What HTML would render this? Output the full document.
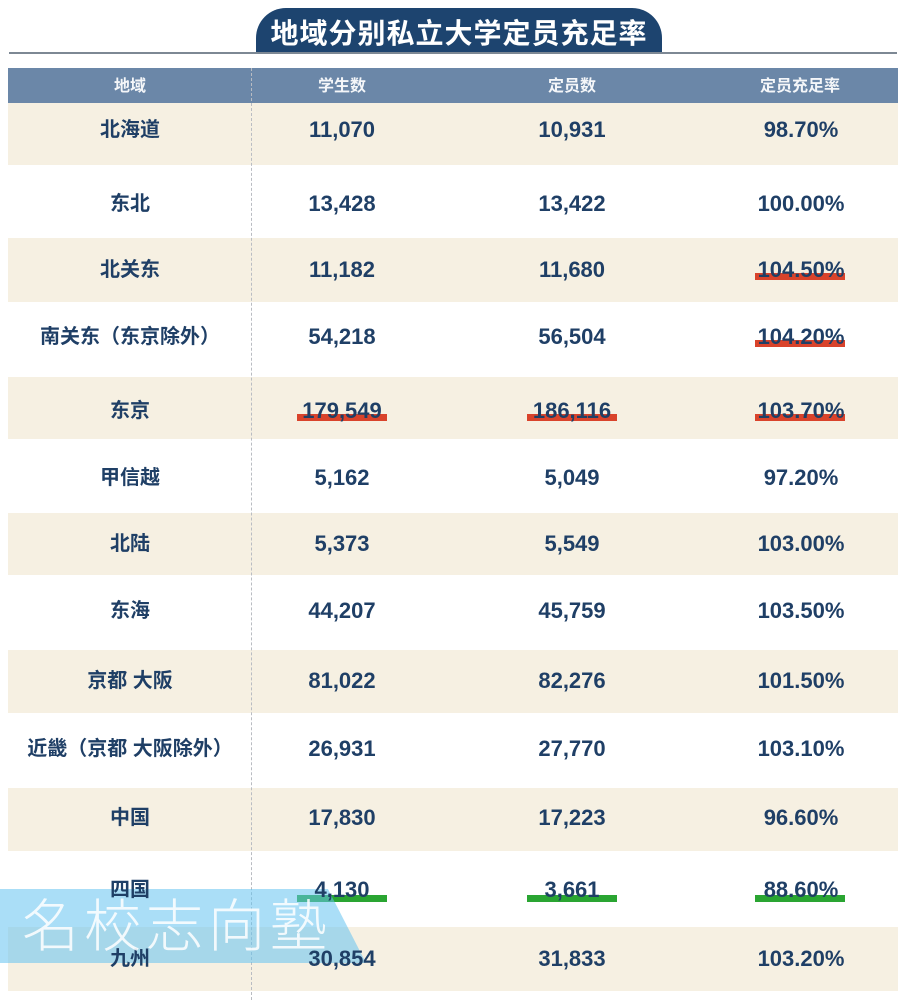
<!DOCTYPE html>
<html>
<head>
<meta charset="utf-8">
<style>
  html,body{margin:0;padding:0;background:#fff;}
  body{width:906px;height:1000px;position:relative;overflow:hidden;
       font-family:"Liberation Sans","Noto Sans CJK SC","Noto Sans CJK JP",sans-serif;}
  .abs{position:absolute;}
  .tab{left:256px;top:8px;width:406px;height:45px;background:#1d446f;border-radius:30px 30px 0 0;}
  .title{left:256px;top:14px;width:406px;height:40px;line-height:40px;text-align:center;color:#fff;
         font-weight:bold;font-size:28px;letter-spacing:1px;white-space:nowrap;}
  .hline{left:9px;top:52px;width:888px;height:2px;background:#7d8894;}
  .head{left:8px;top:68px;width:890px;height:35px;background:#6b87a8;}
  .ht{top:68px;height:38px;line-height:38px;color:#f4f6f9;font-size:16px;font-weight:bold;text-align:center;width:200px;}
  .row{left:8px;width:890px;background:#f6f0e2;}
  .vdash{left:251px;top:68px;width:0;height:932px;border-left:1px dashed #b9bcc2;}
  .c{height:40px;line-height:40px;text-align:center;color:#1f3f66;font-weight:bold;width:240px;z-index:3;}
  .n{font-size:22px;}
  .k{font-size:20px;}
  .ul{height:7px;width:90px;z-index:2;}
  .red{background:#d9432b;}
  .grn{background:#2aa532;}
  .wm{left:0;top:0;width:906px;height:1000px;z-index:2;}
  .wmt{left:22px;top:887px;font-size:57px;line-height:70px;letter-spacing:5px;color:rgba(255,255,255,0.85);
       font-weight:200;font-family:"Noto Sans CJK JP","Noto Sans CJK SC",sans-serif;z-index:4;white-space:nowrap;}
</style>
</head>
<body>
<div class="abs tab"></div>
<div class="abs title">地域分别私立大学定员充足率</div>
<div class="abs hline"></div>

<div class="abs head"></div>
<div class="abs ht" style="left:30px;">地域</div>
<div class="abs ht" style="left:242px;">学生数</div>
<div class="abs ht" style="left:472px;">定员数</div>
<div class="abs ht" style="left:700px;">定员充足率</div>

<div class="abs row" style="top:103px;height:62px;"></div>
<div class="abs row" style="top:238px;height:64px;"></div>
<div class="abs row" style="top:377px;height:62px;"></div>
<div class="abs row" style="top:513px;height:62px;"></div>
<div class="abs row" style="top:650px;height:63px;"></div>
<div class="abs row" style="top:788px;height:63px;"></div>
<div class="abs row" style="top:927px;height:64px;"></div>

<div class="abs vdash"></div>

<!-- underlines -->
<div class="abs ul red" style="left:755px;top:273px;"></div>
<div class="abs ul red" style="left:755px;top:340px;"></div>
<div class="abs ul red" style="left:297px;top:414px;"></div>
<div class="abs ul red" style="left:527px;top:414px;"></div>
<div class="abs ul red" style="left:755px;top:414px;"></div>
<div class="abs ul grn" style="left:297px;top:895px;"></div>
<div class="abs ul grn" style="left:527px;top:895px;"></div>
<div class="abs ul grn" style="left:755px;top:895px;"></div>

<!-- rows -->
<div class="abs c k" style="left:10px;top:110px;">北海道</div>
<div class="abs c n" style="left:222px;top:110px;">11,070</div>
<div class="abs c n" style="left:452px;top:110px;">10,931</div>
<div class="abs c n" style="left:681px;top:110px;">98.70%</div>

<div class="abs c k" style="left:10px;top:184px;">东北</div>
<div class="abs c n" style="left:222px;top:184px;">13,428</div>
<div class="abs c n" style="left:452px;top:184px;">13,422</div>
<div class="abs c n" style="left:681px;top:184px;">100.00%</div>

<div class="abs c k" style="left:10px;top:250px;">北关东</div>
<div class="abs c n" style="left:222px;top:250px;">11,182</div>
<div class="abs c n" style="left:452px;top:250px;">11,680</div>
<div class="abs c n" style="left:681px;top:250px;">104.50%</div>

<div class="abs c k" style="left:10px;top:317px;">南关东（东京除外）</div>
<div class="abs c n" style="left:222px;top:317px;">54,218</div>
<div class="abs c n" style="left:452px;top:317px;">56,504</div>
<div class="abs c n" style="left:681px;top:317px;">104.20%</div>

<div class="abs c k" style="left:10px;top:391px;">东京</div>
<div class="abs c n" style="left:222px;top:391px;">179,549</div>
<div class="abs c n" style="left:452px;top:391px;">186,116</div>
<div class="abs c n" style="left:681px;top:391px;">103.70%</div>

<div class="abs c k" style="left:10px;top:458px;">甲信越</div>
<div class="abs c n" style="left:222px;top:458px;">5,162</div>
<div class="abs c n" style="left:452px;top:458px;">5,049</div>
<div class="abs c n" style="left:681px;top:458px;">97.20%</div>

<div class="abs c k" style="left:10px;top:524px;">北陆</div>
<div class="abs c n" style="left:222px;top:524px;">5,373</div>
<div class="abs c n" style="left:452px;top:524px;">5,549</div>
<div class="abs c n" style="left:681px;top:524px;">103.00%</div>

<div class="abs c k" style="left:10px;top:591px;">东海</div>
<div class="abs c n" style="left:222px;top:591px;">44,207</div>
<div class="abs c n" style="left:452px;top:591px;">45,759</div>
<div class="abs c n" style="left:681px;top:591px;">103.50%</div>

<div class="abs c k" style="left:10px;top:661px;">京都 大阪</div>
<div class="abs c n" style="left:222px;top:661px;">81,022</div>
<div class="abs c n" style="left:452px;top:661px;">82,276</div>
<div class="abs c n" style="left:681px;top:661px;">101.50%</div>

<div class="abs c k" style="left:10px;top:729px;">近畿（京都 大阪除外）</div>
<div class="abs c n" style="left:222px;top:729px;">26,931</div>
<div class="abs c n" style="left:452px;top:729px;">27,770</div>
<div class="abs c n" style="left:681px;top:729px;">103.10%</div>

<div class="abs c k" style="left:10px;top:798px;">中国</div>
<div class="abs c n" style="left:222px;top:798px;">17,830</div>
<div class="abs c n" style="left:452px;top:798px;">17,223</div>
<div class="abs c n" style="left:681px;top:798px;">96.60%</div>

<div class="abs c k" style="left:10px;top:870px;">四国</div>
<div class="abs c n" style="left:222px;top:870px;">4,130</div>
<div class="abs c n" style="left:452px;top:870px;">3,661</div>
<div class="abs c n" style="left:681px;top:870px;">88.60%</div>

<div class="abs c k" style="left:10px;top:939px;">九州</div>
<div class="abs c n" style="left:222px;top:939px;">30,854</div>
<div class="abs c n" style="left:452px;top:939px;">31,833</div>
<div class="abs c n" style="left:681px;top:939px;">103.20%</div>

<!-- watermark -->
<svg class="abs wm" width="906" height="1000" viewBox="0 0 906 1000">
  <polygon points="0,889 328,889 366,963 0,963" fill="rgba(100,195,240,0.55)"/>
</svg>
<div class="abs wmt">名校志向塾</div>
</body>
</html>
